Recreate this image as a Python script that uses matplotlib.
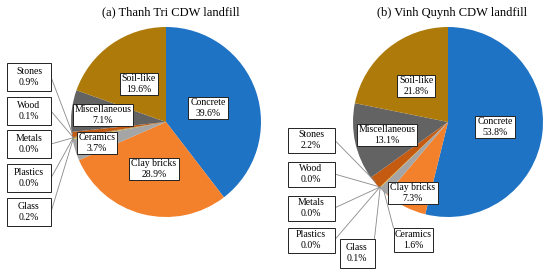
import numpy as np
import matplotlib
matplotlib.use("Agg")
import matplotlib.pyplot as plt
from matplotlib.patches import Rectangle

plt.rcParams['font.family'] = ['Liberation Serif', 'DejaVu Serif']

# ---------------- data ----------------
categories = ["Concrete", "Clay bricks", "Ceramics", "Glass", "Plastics",
              "Metals", "Wood", "Stones", "Miscellaneous", "Soil-like"]
thanh_tri = [39.6, 28.9, 3.7, 0.2, 0.0, 0.0, 0.1, 0.9, 7.1, 19.6]
vinh_quynh = [53.8, 7.3, 1.6, 0.1, 0.0, 0.0, 0.0, 2.2, 13.1, 21.8]
titles = ["(a) Thanh Tri CDW landfill", "(b) Vinh Quynh CDW landfill"]

colors = ['#1F73C4', '#F3802A', '#A5A5A5', '#E8B400', '#5B9BD5',
          '#70AD47', '#264478', '#C55A11', '#636363', '#AE7B0B']

W, H = 550, 274
fig = plt.figure(figsize=(5.5, 2.74), dpi=100)
ax = fig.add_axes([0, 0, 1, 1])

def Y(y):
    return H - y

# layout (pixel coordinates, y from top)
pies = [
    dict(values=thanh_tri, center=(166, 122), radius=95, title_xy=(171, 12),
         inner={"Concrete": (208, 108), "Soil-like": (139, 84),
                "Miscellaneous": (103, 115), "Ceramics": (97, 143),
                "Clay bricks": (154, 169)},
         outer={"Stones": (29, 77, 44, 28, 'r'), "Wood": (29, 111, 44, 28, 'r'),
                "Metals": (29, 144, 44, 28, 'r'), "Plastics": (29, 178, 44, 28, 'r'),
                "Glass": (29, 212, 44, 28, 'r')}),
    dict(values=vinh_quynh, center=(448, 122), radius=95, title_xy=(452, 13),
         inner={"Concrete": (495, 127), "Soil-like": (416, 86),
                "Miscellaneous": (387, 135), "Clay bricks": (413, 193)},
         outer={"Stones": (311, 140, 47, 25, 'r'), "Wood": (311, 174, 47, 25, 'r'),
                "Metals": (311, 208, 47, 25, 'r'), "Plastics": (311, 240, 47, 25, 'r'),
                "Glass": (357, 253, 35, 29, 'tr'), "Ceramics": (413, 240, 39, 24, 'tl')}),
]

for k, p in enumerate(pies):
    cx, cy = p['center']
    wedges, _ = ax.pie(p['values'], colors=colors, startangle=90, counterclock=False,
                       center=(cx, Y(cy)), radius=p['radius'],
                       wedgeprops=dict(linewidth=0))
    ax.text(p['title_xy'][0], Y(p['title_xy'][1]), titles[k],
            ha='center', va='center', fontsize=9)
    for name, (x, y) in p['inner'].items():
        i = categories.index(name)
        ax.text(x, Y(y), f"{name}\n{p['values'][i]:.1f}%", ha='center', va='center',
                fontsize=7, linespacing=1.15,
                bbox=dict(boxstyle='square,pad=0.2', fc='white', ec='#222222', lw=0.7))
    for name, (x, y, w, h, anchor) in p['outer'].items():
        i = categories.index(name)
        ax.add_patch(Rectangle((x - w / 2, Y(y) - h / 2), w, h, fc='white',
                               ec='#222222', lw=0.7, zorder=3))
        ax.text(x, Y(y), f"{name}\n{p['values'][i]:.1f}%", ha='center', va='center',
                fontsize=7, linespacing=1.25, zorder=4)
        wd = wedges[i]
        ang = np.deg2rad((wd.theta1 + wd.theta2) / 2)
        px = wd.center[0] + wd.r * 0.99 * np.cos(ang)
        py = wd.center[1] + wd.r * 0.99 * np.sin(ang)
        if anchor == 'r':
            sx, sy = x + w / 2, Y(y)
        elif anchor == 'tr':
            sx, sy = x + w / 2, Y(y) + h / 2
        else:
            sx, sy = x - w / 2, Y(y) + h / 2
        ax.plot([sx, px], [sy, py], color='#888888', lw=0.6, zorder=2)

ax.set_xlim(0, W)
ax.set_ylim(0, H)
ax.set_aspect('auto')
ax.axis('off')
fig.savefig('out.png', dpi=100)
